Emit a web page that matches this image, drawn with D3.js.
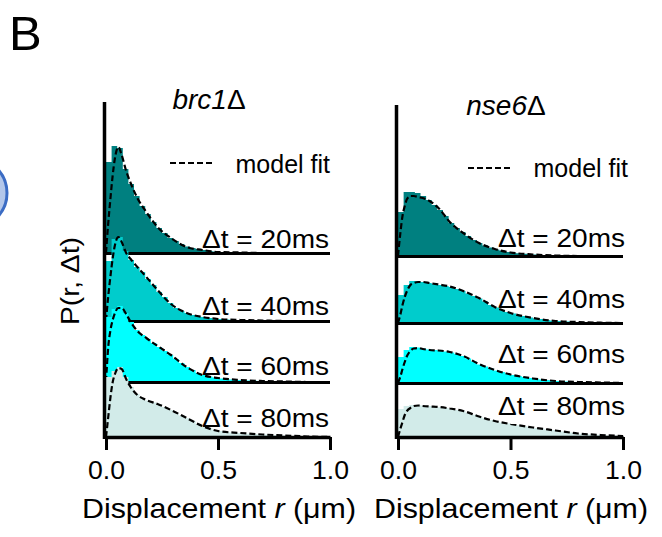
<!DOCTYPE html>
<html>
<head>
<meta charset="utf-8">
<script src="https://cdn.jsdelivr.net/npm/d3@7"></script>
<style>
body { margin: 0; background: #fff; }
svg { display: block; font-family: "Liberation Sans", Arial, Helvetica, sans-serif; }
</style>
</head>
<body>
<svg width="662" height="537"></svg>
<script>
const WIDTH = 662
const HEIGHT = 537
const BIN = 0.025 // histogram bin width (um)

const lags = ["20ms", "40ms", "60ms", "80ms"]
const lagColors = ["#008080", "#00cccc", "#00ffff", "#d2ebe9"]
const xTicks = [0, 0.5, 1.0]

// r values (um) at which the model fit was read
const fitR = [0, 0.01, 0.02, 0.03, 0.04, 0.055, 0.07, 0.09, 0.11, 0.14, 0.18, 0.23, 0.29, 0.36, 0.43, 0.5, 0.6, 0.7, 0.8, 0.9, 1.0]

// brc1 delta - histograms (bins of 0.025 um from 0), arbitrary units
const brc1Hist20 = [91, 107, 105, 84, 69, 57, 47, 39, 31, 25, 20, 15, 12, 9, 6.5, 5, 4, 3, 2, 1.5, 1, 0.7, 0.5, 0.3, 0.2]
const brc1Hist40 = [60, 82, 84, 70, 61, 54, 49, 42, 36, 29, 24, 18, 13, 10, 8, 6, 4.5, 4, 3, 2.3, 2, 1.6, 1.2, 1, 0.8, 0.5, 0.3]
const brc1Hist60 = [65, 73, 76, 69, 60, 52, 47, 43, 39, 35, 31, 27, 23, 19, 15, 12, 9, 7, 5.5, 4.5, 3.5, 3, 2.5, 2, 1.8, 1.5, 1.2, 1, 0.8, 0.5, 0.3]
const brc1Hist80 = [60, 66, 70, 60, 50, 43, 39, 36.5, 34.5, 32.5, 30, 27, 24, 21.5, 19, 16, 13, 11, 9, 7, 6, 5, 4.5, 4, 3.7, 3.3, 3, 2.7, 2.4, 2, 1.8, 1.5, 1.2, 1, 0.8, 0.6]
// brc1 delta - model fit at fitR
const brc1Fit20 = [0, 30, 55, 78, 95, 106, 98, 82, 70, 55, 41, 26, 15, 6, 3, 1, 0.5, 0, 0, 0, 0]
const brc1Fit40 = [0, 25, 45, 63, 76, 84, 79, 68, 62, 54, 44, 31, 17, 8, 4, 2, 1, 0.5, 0, 0, 0]
const brc1Fit60 = [0, 35, 52, 62, 69, 74, 74, 68, 60, 51, 44, 36, 27, 15, 7, 4, 2, 1, 0.5, 0, 0]
const brc1Fit80 = [0, 20, 40, 55, 63, 69, 68, 58, 50, 42, 37, 33, 27, 19, 11, 6, 4, 2.5, 1.5, 0.5, 0]

// nse6 delta
const nse6Hist20 = [44, 64, 64, 63, 60, 56, 51, 46, 40, 33, 28, 24, 20, 16, 13, 10.5, 8.5, 6.6, 5.4, 4.1, 3.3, 2.7, 2.2, 1.8, 1.4, 1.1, 0.8, 0.6, 0.4, 0.3]
const nse6Hist40 = [28, 38, 42, 42, 41, 40, 39, 38, 37, 36, 34, 32, 29.5, 27, 24.5, 21.5, 18, 15.5, 13, 11, 9.5, 8, 7, 5.5, 4.5, 4, 3, 2.5, 2, 1.6, 1.4, 1.1, 0.9, 0.7, 0.5, 0.4]
const nse6Hist60 = [26, 33, 36, 35.5, 34.5, 33.5, 33, 32.5, 31.5, 30.5, 29, 27, 24.5, 21.5, 18.5, 16.5, 14.5, 12.5, 11, 9.5, 8, 7, 6, 5, 4.2, 3.6, 2.9, 2.3, 1.9, 1.6, 1.4, 1.1, 0.9, 0.8, 0.7, 0.6, 0.5]
const nse6Hist80 = [28, 31, 32, 32, 31.5, 31, 30.3, 29.8, 29, 28.2, 27.1, 26.1, 24.2, 22.3, 20.3, 18.7, 17.1, 15.7, 14.6, 13.5, 12.6, 11.7, 10.8, 9.9, 9.1, 8.4, 7.6, 6.9, 6.1, 5.4, 4.6, 3.9, 3.3, 2.9, 2.6, 2.2, 1.9, 1.6, 1.4, 1.1]
const nse6Fit20 = [0, 22, 40, 50, 57, 60, 60, 59, 58, 55, 48, 34, 23, 13, 7, 3.5, 1.5, 0.5, 0, 0, 0]
const nse6Fit40 = [0, 8, 18, 26, 32, 38, 40, 41, 41, 40, 38.5, 36.5, 32, 25, 16, 10, 5, 2, 1, 0.3, 0]
const nse6Fit60 = [0, 6, 14, 21, 27, 32, 34.5, 35, 34, 33, 32.5, 31, 27, 19, 13, 8.5, 4.5, 2, 1, 0.5, 0]
const nse6Fit80 = [0, 8, 15, 22, 26, 29, 31, 31.5, 31, 30.5, 30, 28.5, 26, 20.5, 16, 13, 9.5, 6.5, 3.5, 2, 1]

// layout of the two panels
const panels = [
    {
        title: "brc1",
        hist: [brc1Hist20, brc1Hist40, brc1Hist60, brc1Hist80],
        fit: [brc1Fit20, brc1Fit40, brc1Fit60, brc1Fit80],
        x0: 106, x1: 330, axisTop: 102,
        rowBase: [253, 321, 382, 437],
        labelY: [248, 315, 375, 427], labelX: 329,
        titleX: 209, titleY: 109,
        legY: 163, legX: 170, legTextY: 173, legTextX: 330,
        xLabelX: 219
    },
    {
        title: "nse6",
        hist: [nse6Hist20, nse6Hist40, nse6Hist60, nse6Hist80],
        fit: [nse6Fit20, nse6Fit40, nse6Fit60, nse6Fit80],
        x0: 398, x1: 623, axisTop: 105,
        rowBase: [256, 323, 383, 437],
        labelY: [247, 308, 363, 415], labelX: 625,
        titleX: 506, titleY: 115,
        legY: 168, legX: 468, legTextY: 177, legTextX: 628,
        xLabelX: 511
    }
]

const svg = d3.select("svg")

// stray partial circle at the left edge of the source figure
svg.append("circle")
    .attr("cx", -28).attr("cy", 193).attr("r", 35)
    .attr("fill", "#b3c7ea")
    .attr("stroke", "#3b6cc4")
    .attr("stroke-width", 3)

svg.append("text")
    .attr("x", 9).attr("y", 50)
    .attr("font-size", 49)
    .text("B")

svg.append("text")
    .attr("transform", "translate(79,281) rotate(-90)")
    .attr("text-anchor", "middle")
    .attr("font-size", 25)
    .attr("textLength", 88)
    .attr("lengthAdjust", "spacingAndGlyphs")
    .text("P(r, \u0394t)")

panels.forEach(p => {
    const g = svg.append("g")
    const x = d3.scaleLinear().domain([0, 1]).range([p.x0, p.x1])

    p.hist.forEach((bins, i) => {
        const base = p.rowBase[i]
        const y = d3.scaleLinear().domain([0, 100]).range([base, base - 100])
        const row = g.append("g")

        const pts = bins.map((v, k) => ({ r: k * BIN, v: v }))
        pts.push({ r: bins.length * BIN, v: 0 })

        row.append("path")
            .datum(pts)
            .attr("fill", lagColors[i])
            .attr("d", d3.area()
                .curve(d3.curveStepAfter)
                .x(d => x(d.r))
                .y0(y(0))
                .y1(d => y(d.v)))

        row.append("path")
            .datum(fitR.map((r, k) => ({ r: r, v: p.fit[i][k] })))
            .attr("fill", "none")
            .attr("stroke", "black")
            .attr("stroke-width", 2.2)
            .attr("stroke-dasharray", "6,3")
            .attr("d", d3.line()
                .curve(d3.curveMonotoneX)
                .x(d => x(d.r))
                .y(d => y(d.v)))

        // row baseline, drawn over its own fill; the next row covers it
        if (i < lags.length - 1) {
            row.append("line")
                .attr("x1", x(0)).attr("x2", x(1))
                .attr("y1", base + 0.5).attr("y2", base + 0.5)
                .attr("stroke", "black")
                .attr("stroke-width", 3.2)
        }
    })

    // x axis
    const ax = g.append("g")
        .attr("transform", "translate(0," + p.rowBase[3] + ")")
        .call(d3.axisBottom(x)
            .tickValues(xTicks)
            .tickFormat(d3.format(".1f"))
            .tickSize(13)
            .tickSizeOuter(0)
            .tickPadding(11))
    ax.attr("font-family", null)
    ax.select(".domain").attr("stroke-width", 3.5)
    ax.selectAll(".tick line").attr("stroke-width", 3)
    ax.selectAll(".tick text")
        .attr("font-size", 25)
        .attr("fill", "black")
        .attr("textLength", 37)
        .attr("lengthAdjust", "spacingAndGlyphs")

    // y axis line (no ticks)
    g.append("line")
        .attr("x1", x(0) - 1.5).attr("x2", x(0) - 1.5)
        .attr("y1", p.axisTop).attr("y2", p.rowBase[3] + 2)
        .attr("stroke", "black")
        .attr("stroke-width", 3.5)

    // lag labels
    g.selectAll("text.lag")
        .data(lags)
        .join("text")
        .classed("lag", true)
        .attr("x", p.labelX)
        .attr("y", (d, i) => p.labelY[i])
        .attr("text-anchor", "end")
        .attr("font-size", 25)
        .attr("textLength", 127)
        .attr("lengthAdjust", "spacingAndGlyphs")
        .text(d => "\u0394t = " + d)

    // legend
    g.append("line")
        .attr("x1", p.legX).attr("x2", p.legX + 42)
        .attr("y1", p.legY).attr("y2", p.legY)
        .attr("stroke", "black")
        .attr("stroke-width", 1.8)
        .attr("stroke-dasharray", "6,3")
    g.append("text")
        .attr("x", p.legTextX).attr("y", p.legTextY)
        .attr("text-anchor", "end")
        .attr("font-size", 25)
        .text("model fit")

    // title
    const t = g.append("text")
        .attr("x", p.titleX).attr("y", p.titleY)
        .attr("text-anchor", "middle")
        .attr("font-size", 28)
    t.append("tspan").attr("font-style", "italic").text(p.title)
    t.append("tspan").text("\u0394")

    // x axis label
    const xl = g.append("text")
        .attr("x", p.xLabelX).attr("y", 518)
        .attr("text-anchor", "middle")
        .attr("font-size", 28)
        .attr("textLength", 274)
        .attr("lengthAdjust", "spacingAndGlyphs")
    xl.append("tspan").text("Displacement ")
    xl.append("tspan").attr("font-style", "italic").text("r")
    xl.append("tspan").text(" (\u03bcm)")
})
</script>
</body>
</html>
